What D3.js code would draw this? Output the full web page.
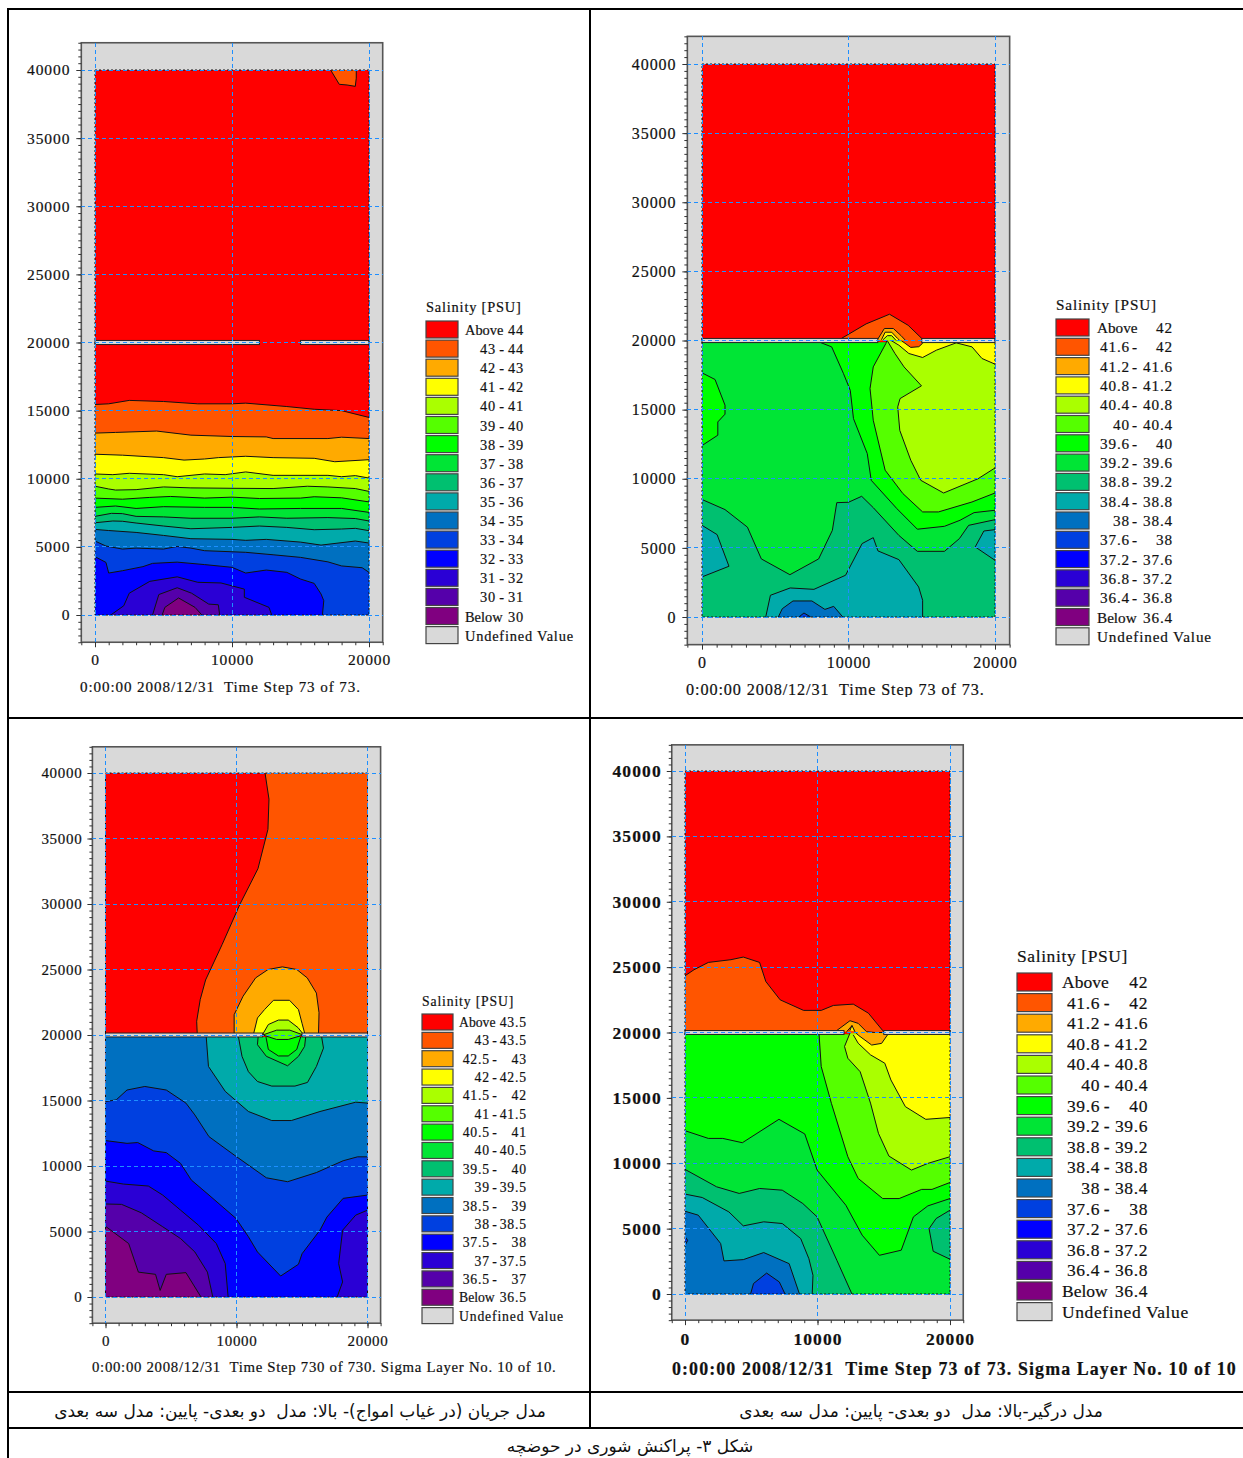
<!DOCTYPE html>
<html>
<head>
<meta charset="utf-8">
<script src="https://cdnjs.cloudflare.com/ajax/libs/d3/7.8.5/d3.min.js"></script>
<style>
body { margin: 0; background: #fff; }
svg { display: block; }
text { font-family: "Liberation Serif", serif; fill: #111; stroke: #111; stroke-width: 0.2px; }
.fa { font-family: "DejaVu Sans", sans-serif; stroke-width: 0; }
</style>
</head>
<body>
<script>
// band colours, same order as the legend rows
var bandColors = ["#ff0000", "#ff5500", "#ffaa00", "#ffff00", "#aaff00", "#55ff00", "#00ff00", "#00e535",
  "#00c070", "#00aaaa", "#0070c0", "#0040e0", "#0000ff", "#2a00d5", "#5500aa", "#800080"];
var undefinedColor = "#d9d9d9";

var labelsA = ["Above 44", "43 - 44", "42 - 43", "41 - 42", "40 - 41", "39 - 40", "38 - 39", "37 - 38",
  "36 - 37", "35 - 36", "34 - 35", "33 - 34", "32 - 33", "31 - 32", "30 - 31", "Below 30"];
var labelsB = ["Above 42", "41.6 - 42", "41.2 - 41.6", "40.8 - 41.2", "40.4 - 40.8", "40 - 40.4", "39.6 - 40", "39.2 - 39.6",
  "38.8 - 39.2", "38.4 - 38.8", "38 - 38.4", "37.6 - 38", "37.2 - 37.6", "36.8 - 37.2", "36.4 - 36.8", "Below 36.4"];
var labelsC = ["Above 43.5", "43 - 43.5", "42.5 - 43", "42 - 42.5", "41.5 - 42", "41 - 41.5", "40.5 - 41", "40 - 40.5",
  "39.5 - 40", "39 - 39.5", "38.5 - 39", "38 - 38.5", "37.5 - 38", "37 - 37.5", "36.5 - 37", "Below 36.5"];
var labelsD = labelsB;

var yTicks = [0, 5000, 10000, 15000, 20000, 25000, 30000, 35000, 40000];
var xTicks = [0, 10000, 20000];
var wallLeft = [0, 12000];
var wallRight = [15000, 20000];

//
// contours: [band, contour line, extra corners that close the fill]
//
var contoursA = [
  [1, [[0,15450],[1000,15500],[2500,15750],[5000,15670],[7500,15500],[10000,15500],[11000,15550],[14000,15300],[16000,15100],[18000,15000],[20000,14500]], [[20000,0],[0,0]]],
  [2, [[0,13350],[1500,13400],[4500,13500],[7000,13200],[10000,13100],[12500,13070],[13000,12950],[17000,12950],[18000,13050],[20000,12950]], [[20000,0],[0,0]]],
  [3, [[0,11800],[2000,11730],[5000,11550],[6500,11370],[8000,11450],[9000,11550],[11000,11650],[13000,11550],[16000,11500],[17500,11250],[20000,11400]], [[20000,0],[0,0]]],
  [4, [[0,10350],[1300,10300],[2500,10400],[5000,10300],[6000,10150],[8000,10350],[9500,10300],[11000,10500],[13000,10250],[17000,10250],[18000,10150],[19000,10230],[20000,10050]], [[20000,0],[0,0]]],
  [5, [[0,9450],[1000,9250],[1500,9170],[3000,9200],[5000,9400],[7000,9330],[10000,9300],[13000,9280],[15500,9450],[17000,9400],[19000,9280],[20000,9070]], [[20000,0],[0,0]]],
  [6, [[0,8580],[2000,8500],[4000,8630],[5500,8700],[8000,8580],[10000,8650],[12000,8550],[15000,8580],[16000,8680],[18000,8600],[20000,8300]], [[20000,0],[0,0]]],
  [7, [[0,7900],[1500,8000],[3000,7820],[5000,7950],[8000,7900],[10000,7900],[12000,7780],[15000,7820],[18000,7820],[20000,7530]], [[20000,0],[0,0]]],
  [8, [[0,7240],[1200,7460],[2000,7440],[3000,7240],[5000,7200],[7000,7100],[10000,7100],[12000,7200],[14000,7100],[17000,7150],[19000,7080],[20000,6900]], [[20000,0],[0,0]]],
  [9, [[0,6770],[1300,6900],[2000,6880],[3000,6750],[5000,6530],[7000,6330],[10000,6430],[12000,6530],[14000,6430],[16000,6260],[18000,6310],[19000,6360],[20000,6190]], [[20000,0],[0,0]]],
  [10, [[0,6280],[1000,6200],[3000,6060],[5000,5840],[7000,5600],[10000,5550],[11000,5480],[12500,5550],[15000,5350],[16500,5130],[19000,5430],[20000,5280]], [[20000,0],[0,0]]],
  [11, [[0,5430],[800,5060],[2000,4840],[3000,4910],[5000,4840],[6000,5030],[7000,4910],[8000,4720],[11000,4600],[13000,4420],[15000,4230],[17000,3900],[18000,3600],[19500,3470],[20000,3130]], [[20000,0],[0,0]]],
  [12, [[0,4280],[800,3860],[1000,3080],[2000,3250],[3500,3550],[4200,3790],[6000,3880],[8000,3700],[10000,3500],[11000,3080],[12500,3300],[14000,3130],[15000,2640],[16000,2320],[16500,1540],[16700,1050],[16600,0]], [[0,0]]],
  [13, [[1150,0],[2100,680],[2500,1600],[4000,2470],[6000,2800],[7500,2400],[9200,2350],[10900,1900],[10900,1300],[12700,560],[12900,0]], []],
  [14, [[4200,0],[4660,1500],[6000,2000],[7050,1600],[8300,800],[9000,750],[9100,0]], []],
  [15, [[4900,0],[5100,560],[6100,1250],[7300,560],[7800,0]], []],
  [1, [[17200,40000],[17830,38950],[18400,38900],[19000,38800],[19070,39400],[19070,40000]], []]
];

var contoursB = [
  [7, [], [[0,19850],[20000,19850],[20000,0],[0,0]]],
  [6, [[0,17660],[890,17180],[1570,15320],[1570,14670],[1080,14110],[1080,13150],[0,12400]], []],
  [6, [[20000,7720],[18570,7550],[17620,7000],[16550,6560],[14700,6350],[13300,7840],[11550,9890],[11280,11820],[10340,14350],[10120,16400],[9660,17600],[8850,19540],[8100,19850]], [[20000,19850]]],
  [5, [[20000,8970],[18430,8320],[16140,7600],[15060,7600],[13710,8930],[12500,10620],[11690,14230],[11470,16530],[11690,18090],[12550,19780],[12630,20020]], [[20000,19850]]],
  [4, [[20000,10780],[18840,10000],[16490,8970],[14930,9890],[14250,11340],[13500,13500],[13360,15200],[13520,15800],[14980,16720],[13790,18090],[13170,19060],[12630,20020]], [[20000,19850]]],
  [3, [[20000,18290],[19110,18700],[18430,19540],[17350,19830],[16000,19300],[15060,18770],[14120,19060],[13440,19660],[12900,20000]], [[13000,19850],[20000,19850]]],
  [8, [[20000,7040],[18200,6630],[17570,5670],[16550,4750],[14700,4750],[13440,5900],[11700,7900],[10900,8730],[10000,8300],[9200,8270],[8900,6270],[7960,4200],[6000,3060],[4050,4200],[3100,6500],[1570,7770],[0,8500]], [[0,0],[20000,0]]],
  [9, [[0,6630],[1030,5960],[1840,3670],[0,2900]], []],
  [9, [[4350,0],[4670,1570],[6020,2100],[7640,2000],[9800,3020],[10930,5310],[11690,5740],[12010,4780],[13440,4150],[14790,2170],[15060,1210],[15060,0]], []],
  [9, [[20000,6320],[19240,6220],[18650,5070],[20000,4100]], []],
  [10, [[5210,0],[5480,600],[6210,1160],[7500,1160],[8390,550],[8990,770],[9610,0]], []],
  [11, [[6610,0],[6960,290],[7420,0]], []],
  [1, [[9520,20150],[11200,21200],[12800,21900],[14070,21100],[15000,20150],[15060,19800],[14800,19550],[14250,19500],[13600,20000]], [[12000,20150]]],
  [2, [[12000,20100],[12450,20870],[13060,20870],[13580,20360],[13900,20000]], [[12000,20000]]],
  [3, [[12250,20050],[12500,20600],[12950,20600],[13350,20150],[13500,20000]], []],
  [4, [[12350,20050],[12650,20350],[12950,20350],[13250,20000]], []]
];

var contoursC = [
  [1, [[12180,40000],[12480,38000],[12400,35700],[11640,32700],[10270,30000],[8900,26900],[7640,24200],[7230,22700],[6960,21050],[7000,20150]], [[20000,20150],[20000,40000]]],
  [2, [[9820,20150],[9820,21550],[10500,22960],[11460,24360],[12410,25000],[13500,25200],[14600,25000],[15400,24360],[16100,23200],[16300,21700],[16260,20150]], []],
  [3, [[11320,20150],[11600,21300],[12140,21940],[12820,22650],[14050,22650],[14730,21940],[15000,20900],[15200,20150]], []],
  [4, [[12000,20050],[12430,20800],[13200,21140],[13950,21140],[14700,20560],[15100,20050]], []],
  [10, [], [[0,19850],[20000,19850],[20000,0],[0,0]]],
  [9, [[7690,19850],[7860,17600],[9140,15700],[10910,14160],[12690,13470],[14190,13470],[16370,14160],[19100,14870],[20000,14800]], [[20000,19850]]],
  [8, [[10150,19850],[10420,18370],[10910,17200],[11600,16450],[12690,16100],[14460,16100],[15420,16380],[16100,17600],[16640,19000],[16500,19850]], []],
  [7, [[11650,19850],[11600,19260],[12280,18370],[13900,17650],[14730,18370],[15200,19130],[15280,19850]], []],
  [6, [[12250,19850],[12430,18900],[13200,18400],[13950,18400],[14600,18900],[14900,19850]], []],
  [5, [[12000,20000],[13070,20370],[14070,20370],[15100,20000],[13950,19660],[13070,19660],[12000,20000]], []],
  [11, [[0,14920],[820,15050],[1640,15800],[3000,16070],[4640,15800],[6140,14800],[6820,13900],[7900,12240],[9820,10840],[12280,9100],[13900,8800],[16100,9500],[18140,10400],[19240,10700],[20000,10700]], [[20000,0],[0,0]]],
  [12, [[0,11940],[1640,11730],[2460,11790],[3680,11150],[4640,11020],[5730,10200],[6550,8930],[7900,7780],[9960,6000],[10910,4600],[11600,3440],[13370,1600],[14730,2500],[15000,3300],[16370,5100],[16900,6100],[18140,7530],[20000,7780]], [[20000,0],[0,0]]],
  [13, [[0,8850],[1360,8620],[3270,8470],[4370,7780],[5730,6630],[7100,5480],[8460,4080],[9140,2550],[9360,0]], [[0,0]]],
  [13, [[17680,0],[18100,1150],[17800,2550],[18100,5100],[19100,6250],[20000,6630]], [[20000,0]]],
  [14, [[0,7100],[1230,7070],[2730,6430],[4370,5360],[5730,4460],[6820,3440],[7780,1900],[8190,0]], [[0,0]]],
  [15, [[0,5400],[1770,4080],[2510,1900],[3820,1730],[4170,500],[4640,1730],[6140,1860],[7290,0]], [[0,0]]]
];

var contoursD = [
  [1, [[0,24340],[680,24800],[1760,25360],[3470,25570],[4400,25770],[5630,25360],[6100,23900],[7180,22500],[8950,21690],[10280,21690],[11200,22070],[12700,22170],[13840,21480],[14920,20150],[15140,19820],[14610,19180],[13680,19050],[12900,19690]], [[12000,20150],[0,20150]]],
  [6, [], [[0,19850],[20000,19850],[20000,0],[0,0]]],
  [5, [[10120,19850],[10280,17400],[11050,14580],[12290,10500],[13070,8840],[14920,7300],[16160,7300],[17860,8000],[18640,8000],[20000,8530]], [[20000,19850]]],
  [4, [[12450,19950],[12040,18930],[12290,18030],[13220,17000],[14000,14600],[14600,12290],[15390,10550],[17090,9480],[18330,9990],[20000,10500]], [[20000,19850]]],
  [3, [[12700,19820],[13070,19180],[14000,18290],[15080,17650],[15540,16370],[16630,14330],[18170,13360],[20000,13500]], [[20000,19850]]],
  [2, [[11440,20140],[12450,20900],[13070,20700],[13700,20060],[14330,20000],[14960,20000],[15270,19800],[14840,19170],[14090,19040],[13070,19800],[12830,20060],[12580,20500],[12200,20060]], []],
  [3, [[12450,20150],[12600,20550],[12800,20100]], []],
  [7, [[0,12490],[1760,11900],[2850,11900],[4330,11570],[7090,13360],[9040,12240],[9970,9480],[12140,6790],[13370,4500],[14670,2960],[16320,3350],[17240,5900],[18330,6740],[20000,7300]], [[20000,0],[0,0]]],
  [8, [[0,9530],[2380,8200],[4090,7690],[5630,8070],[7340,7940],[8890,6920],[9970,5900],[11460,2580],[12600,0]], [[0,0]]],
  [8, [[20000,6410],[18950,5770],[18420,5000],[18730,3270],[20000,2660]], []],
  [9, [[0,7640],[1300,7380],[3310,6280],[4400,5210],[5940,5520],[7340,5390],[8730,4240],[9350,2700],[9660,1430],[9600,0]], [[0,0]]],
  [10, [[0,6330],[1000,6030],[2690,3860],[2940,2530],[4400,2630],[5940,3170],[7860,2320],[8640,0]], [[0,0]]],
  [11, [[4950,0],[5170,800],[6160,1600],[7120,920],[7550,0]], []],
  [11, [[0,4400],[200,4100],[0,3700]], []]
];

var panels = [
  { x0: 95, x1: 369, y0: 615, y1: 70, contours: contoursA, labels: labelsA, font: 15.5, spacing: 0.9, tickBold: false, tickPad: 6,
    legend: { x: 426, y: 321, w: 32, h: 17, step: 19.1, left: 465, dash: 502, lo: 496, right: 524, font: 14.4, track: 0.8, titleY: 312 },
    footer: "0:00:00 2008/12/31  Time Step 73 of 73.", footerX: 80, footerY: 692, footerFont: 15.1, footerBold: false },
  { x0: 702, x1: 995, y0: 617, y1: 64, contours: contoursB, labels: labelsB, font: 16, spacing: 0.9, tickBold: false, tickPad: 6,
    legend: { x: 1056, y: 319, w: 33, h: 17, step: 19.3, left: 1097, dash: 1135, lo: 1130, right: 1173, font: 15.2, track: 0.85, titleY: 310 },
    footer: "0:00:00 2008/12/31  Time Step 73 of 73.", footerX: 686, footerY: 695, footerFont: 16.2, footerBold: false, footerCut: 697 },
  { x0: 105.5, x1: 367.5, y0: 1297, y1: 773, contours: contoursC, labels: labelsC, font: 15, spacing: 0.7, tickBold: false, tickPad: 5,
    legend: { x: 422, y: 1014, w: 31, h: 16, step: 18.35, left: 459, dash: 495, lo: 490, right: 527, font: 13.7, track: 0.85, titleY: 1006 },
    footer: "0:00:00 2008/12/31  Time Step 730 of 730. Sigma Layer No. 10 of 10.", footerX: 92, footerY: 1372, footerFont: 14.8, footerBold: false },
  { x0: 685, x1: 950, y0: 1294, y1: 771, contours: contoursD, labels: labelsD, font: 17.5, spacing: 1.1, tickBold: true, tickPad: 5,
    legend: { x: 1017, y: 973, w: 35, h: 18, step: 20.6, left: 1062, dash: 1107, lo: 1100, right: 1148, font: 17.5, track: 0.6, titleY: 962 },
    footer: "0:00:00 2008/12/31  Time Step 73 of 73. Sigma Layer No. 10 of 10", footerX: 672, footerY: 1375, footerFont: 17.9, footerBold: true }
];

var svg = d3.select("body").append("svg")
  .attr("width", 1243)
  .attr("height", 1458);

//
// one panel: frame, filled contours, wall, grid, axes
//
var drawPanel = function(p) {
  var pxPerX = (p.x1 - p.x0) / 20000;
  var pxPerY = (p.y0 - p.y1) / 40000;
  var x = d3.scaleLinear().domain([-1000, 21000]).range([p.x0 - 1000 * pxPerX, p.x1 + 1000 * pxPerX]);
  var y = d3.scaleLinear().domain([-2000, 42000]).range([p.y0 + 2000 * pxPerY, p.y1 - 2000 * pxPerY]);
  var line = d3.line().x(function(d) { return x(d[0]); }).y(function(d) { return y(d[1]); });
  var g = svg.append("g");

  g.append("rect")
    .attr("x", x(-1000)).attr("y", y(42000))
    .attr("width", x(21000) - x(-1000)).attr("height", y(-2000) - y(42000))
    .attr("fill", undefinedColor).attr("stroke", "#555").attr("stroke-width", 1.6);

  // base of the domain
  g.append("path")
    .attr("d", line([[0, 40000], [20000, 40000], [20000, 0], [0, 0]]) + "Z")
    .attr("fill", bandColors[0]);

  p.contours.forEach(function(c) {
    g.append("path")
      .attr("d", line(c[1].concat(c[2])) + "Z")
      .attr("fill", bandColors[c[0]]);
    if (c[1].length > 0) {
      g.append("path")
        .attr("d", line(c[1]))
        .attr("fill", "none")
        .attr("stroke", "#111")
        .attr("stroke-width", 1);
    }
  });

  // breakwater with its gap
  [wallLeft, wallRight].forEach(function(w) {
    g.append("rect")
      .attr("x", x(w[0])).attr("y", y(20150))
      .attr("width", x(w[1]) - x(w[0])).attr("height", y(19850) - y(20150))
      .attr("fill", "#d9d9d9").attr("stroke", "#222").attr("stroke-width", 1);
  });

  // dashed edge of the domain
  g.append("path")
    .attr("d", line([[0, 40000], [20000, 40000], [20000, 0], [0, 0]]) + "Z")
    .attr("fill", "none").attr("stroke", "#111").attr("stroke-dasharray", "2,2");

  // grid
  yTicks.forEach(function(t) {
    g.append("line")
      .attr("x1", x(-1000)).attr("x2", x(21000)).attr("y1", y(t)).attr("y2", y(t))
      .attr("stroke", "#1e8fff").attr("stroke-dasharray", "4,3").attr("shape-rendering", "crispEdges");
  });
  xTicks.forEach(function(t) {
    g.append("line")
      .attr("x1", x(t)).attr("x2", x(t)).attr("y1", y(42000)).attr("y2", y(-2000))
      .attr("stroke", "#1e8fff").attr("stroke-dasharray", "4,3").attr("shape-rendering", "crispEdges");
  });

  // axes
  var yMinor = g.append("g").attr("transform", "translate(" + x(-1000) + ",0)")
    .call(d3.axisLeft(y).tickValues(d3.range(-2000, 42001, 500)).tickSize(3).tickFormat(""));
  var yMajor = g.append("g").attr("transform", "translate(" + x(-1000) + ",0)")
    .call(d3.axisLeft(y).tickValues(yTicks).tickSize(5).tickPadding(p.tickPad).tickFormat(d3.format("d")));
  var xMinor = g.append("g").attr("transform", "translate(0," + y(-2000) + ")")
    .call(d3.axisBottom(x).tickValues(d3.range(-1000, 21001, 1000)).tickSize(3).tickFormat(""));
  var xMajor = g.append("g").attr("transform", "translate(0," + y(-2000) + ")")
    .call(d3.axisBottom(x).tickValues(xTicks).tickSize(5).tickPadding(7).tickFormat(d3.format("d")));
  [yMinor, yMajor, xMinor, xMajor].forEach(function(a) {
    a.select(".domain").remove();
    a.selectAll("line").attr("stroke", "#333");
    a.selectAll("text")
      .style("font-family", '"Liberation Serif", serif')
      .style("font-size", p.font + "px")
      .style("font-weight", p.tickBold ? "bold" : "normal")
      .style("letter-spacing", p.spacing + "px")
      .attr("fill", "#111");
  });

  drawLegend(p);

  g.append("text")
    .attr("x", p.footerX).attr("y", p.footerY)
    .attr("font-size", p.footerFont)
    .attr("font-weight", p.footerBold ? "bold" : "normal")
    .attr("letter-spacing", p.spacing)
    .style("white-space", "pre")
    .text(p.footer);
  if (p.footerCut) {
    g.append("rect").attr("x", p.footerX - 5).attr("y", p.footerCut).attr("width", 320).attr("height", 8).attr("fill", "#fff");
  }
};

//
// legend rows are split into columns so that the dashes line up
//
var drawLegend = function(p) {
  var l = p.legend;
  var g = svg.append("g").attr("font-size", l.font).attr("letter-spacing", l.track);
  g.append("text").attr("x", l.x).attr("y", l.titleY).text("Salinity [PSU]");

  var addCell = function(str, xx, yy, anchor) {
    return g.append("text").attr("x", xx).attr("y", yy).attr("text-anchor", anchor).text(str);
  };

  p.labels.concat(["Undefined Value"]).forEach(function(label, i) {
    var top = l.y + i * l.step;
    var base = top + l.h - 3;
    g.append("rect")
      .attr("x", l.x).attr("y", top).attr("width", l.w).attr("height", l.h)
      .attr("fill", i < bandColors.length ? bandColors[i] : undefinedColor)
      .attr("stroke", "#444").attr("stroke-width", 1.2);
    if (i === bandColors.length) {
      addCell(label, l.left, base, "start");
    } else if (label.indexOf(" - ") > 0) {
      var parts = label.split(" - ");
      addCell(parts[0], l.lo, base, "end");
      addCell("-", l.dash, base, "middle");
      addCell(parts[1], l.right, base, "end");
    } else {
      var words = label.split(" ");
      addCell(words[0], l.left, base, "start").attr("letter-spacing", 0);
      addCell(words[1], l.right, base, "end");
    }
  });
};

//
// table rules and Persian captions
//
var drawTable = function() {
  var rules = [[8, 9, 1243, 9], [8, 718, 1243, 718], [8, 1392, 1243, 1392], [8, 1428, 1243, 1428], [8, 8, 8, 1458], [590, 8, 590, 1428]];
  rules.forEach(function(r) {
    svg.append("line")
      .attr("x1", r[0]).attr("y1", r[1]).attr("x2", r[2]).attr("y2", r[3])
      .attr("stroke", "#000").attr("stroke-width", 2);
  });
  var captions = [
    ["مدل جریان (در غیاب امواج)- بالا: مدل  دو بعدی- پایین: مدل سه بعدی", 300, 1417],
    ["مدل درگیر-بالا: مدل  دو بعدی- پایین: مدل سه بعدی", 921, 1417],
    ["شکل ۳- پراکنش شوری در حوضچه", 630, 1452]
  ];
  captions.forEach(function(c) {
    svg.append("text")
      .attr("class", "fa")
      .attr("x", c[1]).attr("y", c[2])
      .attr("text-anchor", "middle")
      .attr("direction", "rtl")
      .attr("font-size", 17)
      .style("white-space", "pre")
      .text(c[0]);
  });
};

panels.forEach(drawPanel);
drawTable();
</script>
</body>
</html>
